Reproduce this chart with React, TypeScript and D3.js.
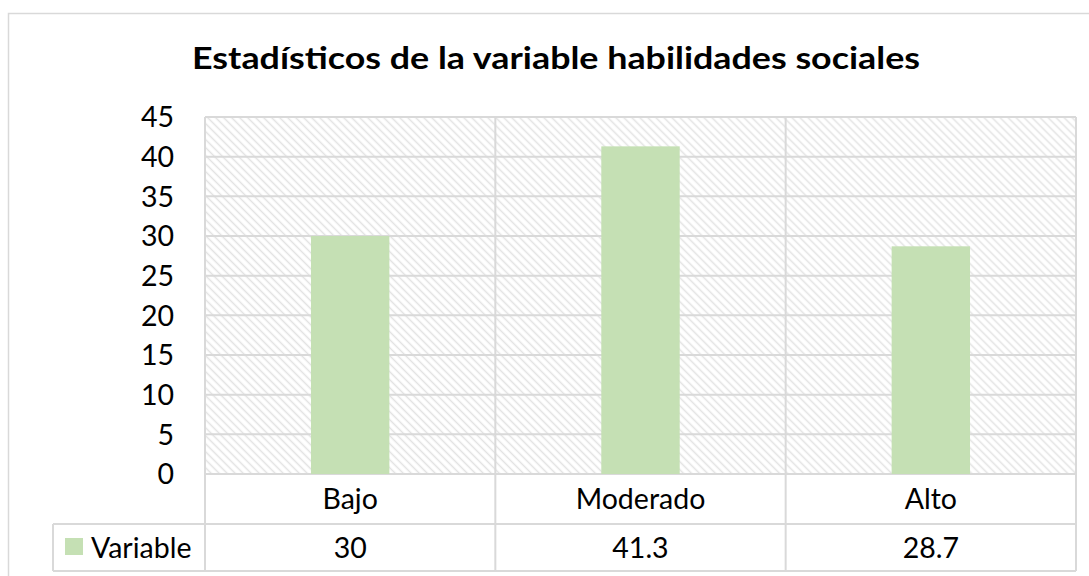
import React from "react";
import { scaleLinear, scaleBand, range } from "d3";

const WIDTH = 1089;
const HEIGHT = 576;

const TITLE = "Estadísticos de la variable habilidades sociales";
const SERIES_NAME = "Variable";
const categories = ["Bajo", "Moderado", "Alto"];
const values = [30, 41.3, 28.7];
const valueLabels = ["30", "41.3", "28.7"];
const yTicks = [0, 5, 10, 15, 20, 25, 30, 35, 40, 45];

// plot / table box (pixel layout of the excel-like chart)
const PLOT = { left: 205, right: 1076, top: 117, bottom: 474 };
const ROW_CAT = 524;
const ROW_END = 571;
const LEGEND_LEFT = 53;

const BAR_COLOR = "#C5E0B4";
const GRID = "#D9D9D9";
const FONT = "Lato, 'Open Sans', sans-serif";
const LABEL_SIZE = 28.5;

function App() {
  const yScale = scaleLinear().domain([0, 45]).range([PLOT.bottom, PLOT.top]);
  const xScale = scaleBand<string>()
    .domain(categories)
    .range([PLOT.left, PLOT.right])
    .padding(0);
  const bw = xScale.bandwidth();
  const barW = bw * 0.27;

  // band edges for vertical separators
  const edges = range(categories.length + 1).map((i) => PLOT.left + i * bw);

  return (
    <svg
      width={WIDTH}
      height={HEIGHT}
      style={{ position: "absolute", left: 0, top: 0, background: "#fff" }}
      fontFamily={FONT}
    >
      <defs>
        <pattern
          id="hatch"
          patternUnits="userSpaceOnUse"
          width={5.66}
          height={5.66}
          patternTransform="rotate(-45)"
        >
          <rect width={5.66} height={5.66} fill="#fff" />
          <line x1={1.4} y1={0} x2={1.4} y2={5.66} stroke="#E3E3E3" strokeWidth={1.5} />
        </pattern>
      </defs>

      {/* outer chart border */}
      <rect x={8.5} y={13.5} width={WIDTH} height={HEIGHT} fill="#fff" stroke={GRID} strokeWidth={1.5} />

      <text
        x={556}
        y={69}
        textAnchor="middle"
        fontSize={31}
        fontWeight="bold"
        fill="#000"
        textLength={728}
        lengthAdjust="spacingAndGlyphs"
      >
        {TITLE}
      </text>

      {/* hatched plot background */}
      <rect
        x={PLOT.left}
        y={PLOT.top}
        width={PLOT.right - PLOT.left}
        height={PLOT.bottom - PLOT.top}
        fill="url(#hatch)"
      />

      {/* horizontal gridlines */}
      {yTicks.map((t) => (
        <line
          key={t}
          x1={PLOT.left}
          x2={PLOT.right}
          y1={yScale(t)}
          y2={yScale(t)}
          stroke={GRID}
          strokeWidth={2}
        />
      ))}

      {/* y labels */}
      {yTicks.map((t) => (
        <text
          key={"l" + t}
          x={174}
          y={yScale(t)}
          dy="0.36em"
          textAnchor="end"
          fontSize={LABEL_SIZE}
          fill="#000"
        >
          {t}
        </text>
      ))}

      {/* bars */}
      {categories.map((c, i) => (
        <rect
          key={c}
          x={xScale(c)! + (bw - barW) / 2}
          y={yScale(values[i])}
          width={barW}
          height={yScale(0) - yScale(values[i])}
          fill={BAR_COLOR}
        />
      ))}

      {/* data table lines */}
      <line x1={LEGEND_LEFT} x2={PLOT.right} y1={ROW_CAT} y2={ROW_CAT} stroke={GRID} strokeWidth={2} />
      <line x1={LEGEND_LEFT} x2={PLOT.right} y1={ROW_END} y2={ROW_END} stroke={GRID} strokeWidth={2} />
      <line x1={LEGEND_LEFT} x2={LEGEND_LEFT} y1={ROW_CAT} y2={ROW_END} stroke={GRID} strokeWidth={2} />
      {edges.map((x, i) => (
        <line key={"e" + i} x1={x} x2={x} y1={PLOT.top} y2={ROW_END} stroke={GRID} strokeWidth={2} />
      ))}

      {/* category labels and values */}
      {categories.map((c, i) => (
        <g key={"t" + c}>
          <text
            x={xScale(c)! + bw / 2}
            y={(PLOT.bottom + ROW_CAT) / 2}
            dy="0.36em"
            textAnchor="middle"
            fontSize={LABEL_SIZE}
            fill="#000"
          >
            {c}
          </text>
          <text
            x={xScale(c)! + bw / 2}
            y={(ROW_CAT + ROW_END) / 2}
            dy="0.36em"
            textAnchor="middle"
            fontSize={LABEL_SIZE}
            fill="#000"
          >
            {valueLabels[i]}
          </text>
        </g>
      ))}

      {/* legend key */}
      <rect x={65} y={538} width={18} height={17} fill={BAR_COLOR} />
      <text x={91} y={(ROW_CAT + ROW_END) / 2} dy="0.36em" fontSize={LABEL_SIZE} fill="#000">
        {SERIES_NAME}
      </text>
    </svg>
  );
}

export default App;
